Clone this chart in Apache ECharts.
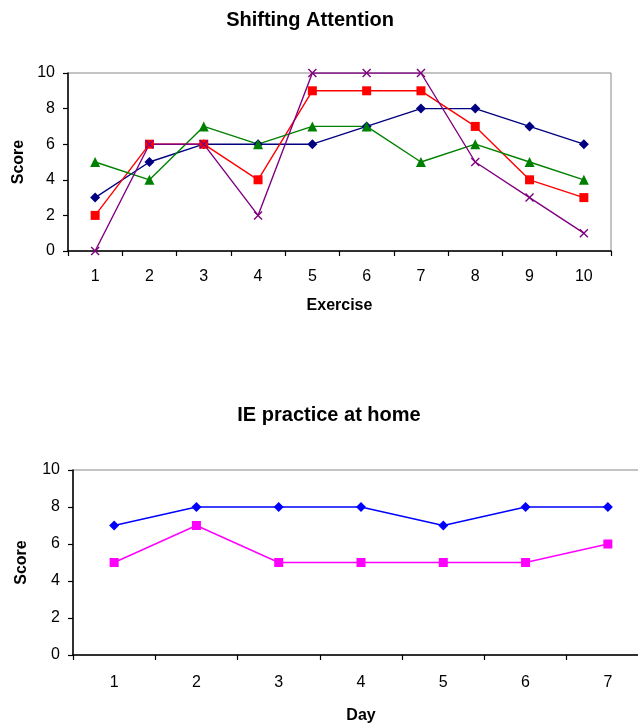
<!DOCTYPE html>
<html>
<head>
<meta charset="utf-8">
<script src="https://cdn.jsdelivr.net/npm/echarts@6/dist/echarts.min.js"></script>
<style>html,body{margin:0;padding:0;background:#fff;}#c{width:638px;height:727px;}</style>
</head>
<body>
<div id="c"></div>
<script>
// Top chart: Shifting Attention
const exercises = ['1','2','3','4','5','6','7','8','9','10'];
const seriesNavy = [3,5,6,6,6,7,8,8,7,6];
const seriesRed = [2,6,6,4,9,9,9,7,4,3];
const seriesGreen = [5,4,7,6,7,7,5,6,5,4];
const seriesPurple = [0,6,6,2,10,10,10,5,3,1];
// Bottom chart: IE practice at home
const days = ['1','2','3','4','5','6','7'];
const homeBlue = [7,8,8,8,7,8,8];
const homeMagenta = [5,7,5,5,5,5,6];

const FONT = '"Liberation Sans", Arial, sans-serif';
const xSymbol = 'path://M0,0L10,10M10,0L0,10';

function yAxisCfg(gridIndex, gap) {
  return {
    gridIndex, type: 'value', min: 0, max: 10, interval: 2,
    name: 'Score', nameLocation: 'middle', nameGap: gap,
    nameTextStyle: {fontFamily: FONT, fontWeight: 'bold', fontSize: 16, color: '#000'},
    axisLine: {show: true, lineStyle: {color: '#000', width: 1.5}},
    axisTick: {show: true, length: 5, lineStyle: {color: '#000', width: 1.2}},
    axisLabel: {fontFamily: FONT, fontSize: 16, color: '#000', margin: 13},
    splitLine: {show: false}
  };
}
function xAxisCfg(gridIndex, data, name, margin, gap) {
  return {
    gridIndex, type: 'category', data, boundaryGap: true,
    name, nameLocation: 'middle', nameGap: gap,
    nameTextStyle: {fontFamily: FONT, fontWeight: 'bold', fontSize: 16, color: '#000'},
    axisLine: {show: true, lineStyle: {color: '#000', width: 1.5}},
    axisTick: {show: true, length: 5, lineStyle: {color: '#000', width: 1.2}},
    axisLabel: {fontFamily: FONT, fontSize: 16, color: '#000', margin},
    splitLine: {show: false}
  };
}
function lineSeries(xi, yi, data, color, symbol, size, extra) {
  return Object.assign({
    type: 'line', xAxisIndex: xi, yAxisIndex: yi, data,
    symbol, symbolSize: size, showAllSymbol: true,
    lineStyle: {color, width: 1.4},
    itemStyle: {color, borderColor: color, borderWidth: 0, opacity: 1},
    animation: false
  }, extra || {});
}

const chart = echarts.init(document.getElementById('c'), null, {renderer: 'canvas'});
chart.setOption({
  backgroundColor: '#fff',
  animation: false,
  title: [
    {text: 'Shifting Attention', left: 305, top: 5, textAlign: 'center',
     textStyle: {fontFamily: FONT, fontWeight: 'bold', fontSize: 20, color: '#000'}},
    {text: 'IE practice at home', left: 324, top: 400, textAlign: 'center',
     textStyle: {fontFamily: FONT, fontWeight: 'bold', fontSize: 20, color: '#000'}}
  ],
  grid: [
    {left: 68, top: 73, width: 543, height: 178, outerBoundsMode: 'none', containLabel: false,
     show: true, borderColor: '#888', borderWidth: 1, backgroundColor: 'transparent'},
    {left: 73, top: 470, width: 576, height: 185, outerBoundsMode: 'none', containLabel: false,
     show: true, borderColor: '#888', borderWidth: 1, backgroundColor: 'transparent'}
  ],
  xAxis: [
    xAxisCfg(0, exercises, 'Exercise', 18, 47),
    xAxisCfg(1, days, 'Day', 20, 53)
  ],
  yAxis: [
    yAxisCfg(0, 40),
    yAxisCfg(1, 43)
  ],
  series: [
    lineSeries(0, 0, seriesNavy, '#000080', 'diamond', 10),
    lineSeries(0, 0, seriesRed, '#FF0000', 'rect', 9),
    lineSeries(0, 0, seriesGreen, '#008000', 'triangle', 10),
    lineSeries(0, 0, seriesPurple, '#800080', xSymbol, 8,
      {itemStyle: {color: 'none', borderColor: '#800080', borderWidth: 1.4}}),
    lineSeries(1, 1, homeBlue, '#0000FF', 'diamond', 10),
    lineSeries(1, 1, homeMagenta, '#FF00FF', 'rect', 9)
  ]
});
</script>
</body>
</html>
